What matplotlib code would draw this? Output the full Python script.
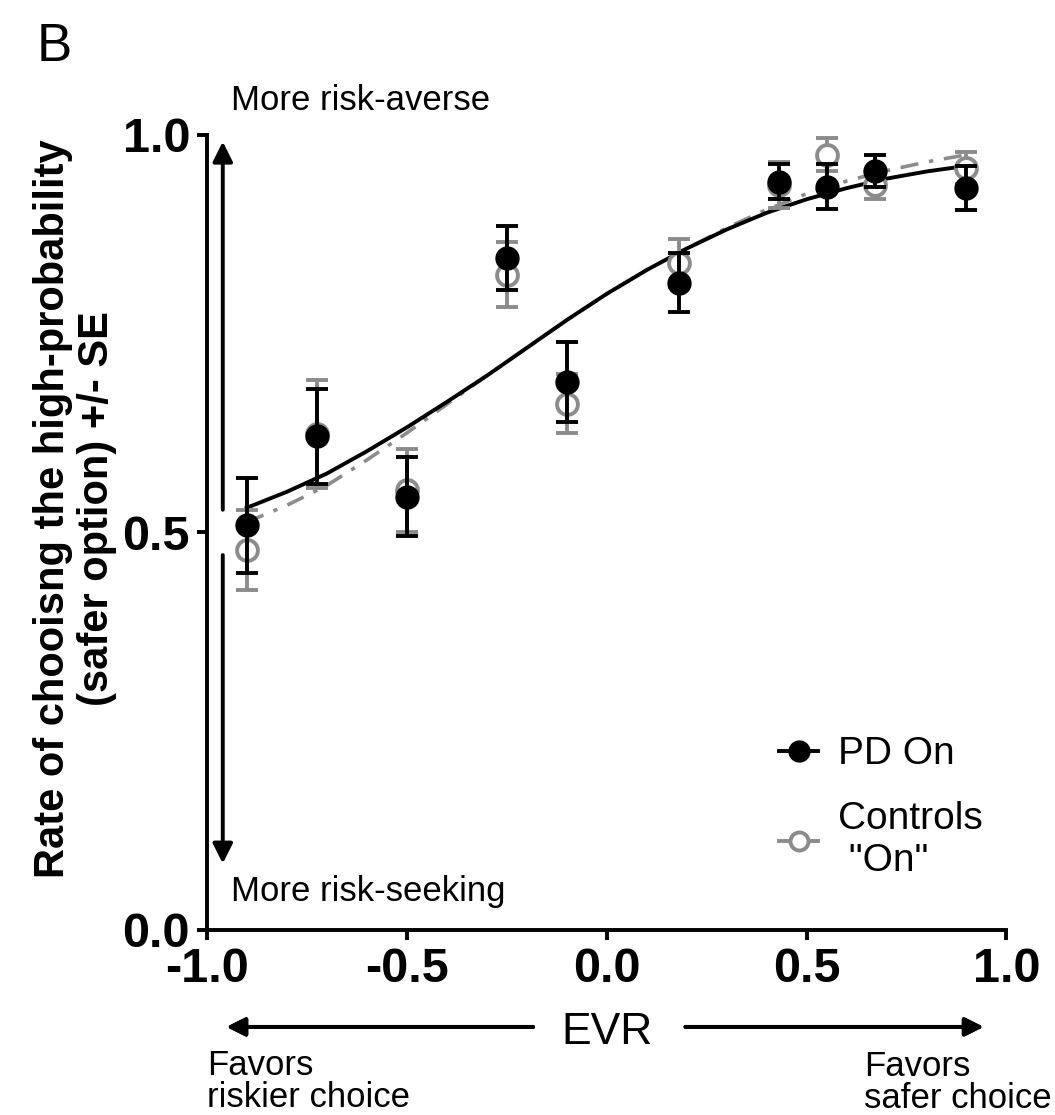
import matplotlib.pyplot as plt
from matplotlib.lines import Line2D

plt.rcParams['font.family'] = ['Liberation Sans', 'DejaVu Sans']

# EVR levels and choice rates (+/- SE)
evr = [-0.9, -0.725, -0.5, -0.25, -0.1, 0.18, 0.43, 0.55, 0.67, 0.9]
pd_on = [0.509, 0.621, 0.545, 0.845, 0.689, 0.814, 0.941, 0.935, 0.955, 0.933]
pd_se = [0.060, 0.060, 0.050, 0.040, 0.050, 0.037, 0.022, 0.028, 0.020, 0.028]
ctrl_on = [0.478, 0.624, 0.553, 0.824, 0.662, 0.839, 0.937, 0.975, 0.937, 0.958]
ctrl_se = [0.050, 0.068, 0.052, 0.041, 0.037, 0.030, 0.029, 0.021, 0.017, 0.020]

# fitted curves, sampled off the figure
fit_x = [-0.9, -0.8, -0.7, -0.6, -0.5, -0.4, -0.3, -0.2, -0.1, 0.0, 0.1, 0.2,
         0.3, 0.4, 0.5, 0.6, 0.7, 0.8, 0.9]
pd_fit = [0.531, 0.551, 0.574, 0.602, 0.632, 0.664, 0.697, 0.732, 0.767, 0.800,
          0.830, 0.857, 0.881, 0.902, 0.919, 0.933, 0.945, 0.954, 0.961]
ctrl_fit = [0.513, 0.534, 0.559, 0.591, 0.625, 0.661, 0.697, 0.732, 0.767, 0.800,
            0.830, 0.857, 0.883, 0.906, 0.926, 0.942, 0.955, 0.966, 0.975]

gray = '#8c8c8c'

fig = plt.figure(figsize=(10.55, 11.15), dpi=100)
ax = fig.add_axes([0.196, 0.166, 0.758, 0.713])

ax.plot(fit_x, ctrl_fit, color=gray, lw=2.6, ls=(0, (5, 3, 1.2, 3)), zorder=2)
ax.plot(fit_x, pd_fit, color='black', lw=2.8, zorder=3)

ax.errorbar(evr, ctrl_on, yerr=ctrl_se, fmt='o', ms=15, mfc='white', mec=gray, mew=2.8,
            ecolor=gray, elinewidth=2.8, capsize=8, capthick=2.8, zorder=4)
ax.errorbar(evr, pd_on, yerr=pd_se, fmt='o', ms=16.5, color='black',
            ecolor='black', elinewidth=2.8, capsize=8, capthick=2.8, zorder=5)

ax.set_xlim(-1, 1)
ax.set_ylim(0, 1)
ax.set_xticks([-1.0, -0.5, 0.0, 0.5, 1.0])
ax.set_yticks([0.0, 0.5, 1.0])
ax.set_xticklabels(['-1.0', '-0.5', '0.0', '0.5', '1.0'])
ax.set_yticklabels(['0.0', '0.5', '1.0'])
for s in ['top', 'right']:
    ax.spines[s].set_visible(False)
for s in ['left', 'bottom']:
    ax.spines[s].set_linewidth(2.8)
ax.tick_params(direction='out', length=7, width=2.8, labelsize=35, pad=5)
for lab in ax.get_xticklabels() + ax.get_yticklabels():
    lab.set_fontweight('bold')

ax.set_ylabel('Rate of chooisng the high-probability\n(safer option) +/- SE',
              fontsize=30, fontweight='bold', linespacing=1.15)
ax.yaxis.set_label_coords(-0.112, 0.53)

# risk arrows along the y axis
arr = dict(arrowstyle='-|>', color='black', lw=2.8, mutation_scale=30)
ax.annotate('', xy=(-0.96, 0.995), xytext=(-0.96, 0.525), arrowprops=arr,
            annotation_clip=False)
ax.annotate('', xy=(-0.96, 0.08), xytext=(-0.96, 0.475), arrowprops=arr,
            annotation_clip=False)
ax.text(-0.94, 1.022, 'More risk-averse', fontsize=25, va='bottom', ha='left',
        clip_on=False)
ax.text(-0.94, 0.028, 'More risk-seeking', fontsize=25, va='bottom', ha='left')

# legend
h1 = Line2D([], [], color='black', marker='o', ms=15, lw=2.8)
h2 = Line2D([], [], color=gray, marker='o', ms=13, mfc='white', mew=2.8, lw=2.8)
ax.legend([h1, h2], ['PD On', 'Controls\n "On"'], loc='lower left',
          bbox_to_anchor=(0.672, 0.02), frameon=False, fontsize=28,
          handlelength=1.0, handletextpad=0.5, labelspacing=0.75)

# x-axis annotation
fig.text(0.575, 0.074, 'EVR', fontsize=32, ha='center', va='center')
arr2 = dict(arrowstyle='-|>', color='black', lw=2.8, mutation_scale=28)
fig.add_artist(plt.annotate('', xy=(0.212, 0.079), xytext=(0.508, 0.079),
                            xycoords='figure fraction', arrowprops=arr2))
fig.add_artist(plt.annotate('', xy=(0.935, 0.079), xytext=(0.647, 0.079),
                            xycoords='figure fraction', arrowprops=arr2))
fig.text(0.196, 0.001, 'Favors\nriskier choice', fontsize=25, ha='left', va='bottom',
         linespacing=0.95)
fig.text(0.997, 0.0, 'Favors\nsafer choice', fontsize=25, ha='right', va='bottom',
         linespacing=0.95, multialignment='left')

fig.text(0.035, 0.958, 'B', fontsize=38, ha='left', va='center')

fig.savefig('out.png', dpi=100)
